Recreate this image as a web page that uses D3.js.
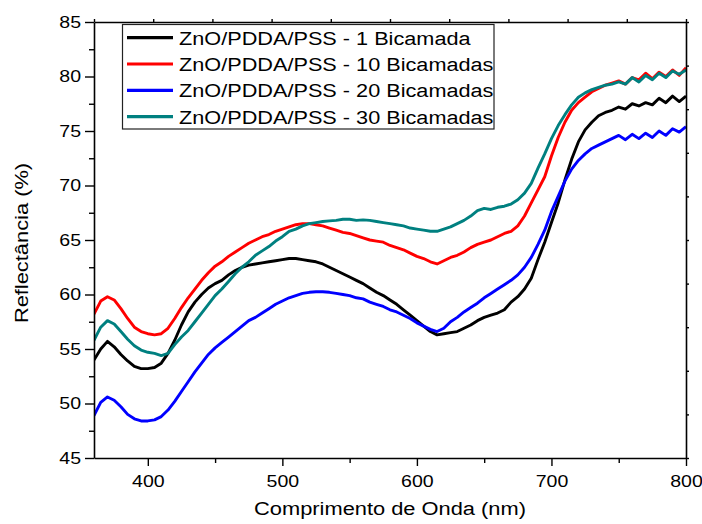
<!DOCTYPE html>
<html>
<head>
<meta charset="utf-8">
<script src="https://cdn.jsdelivr.net/npm/d3@7"></script>
<style>
  html, body { margin: 0; padding: 0; background: #fff; }
  svg { display: block; }
  text { font-family: "Liberation Sans", Arial, sans-serif; fill: #000; }
</style>
</head>
<body>
<svg id="chart" width="702" height="524"></svg>
<script>
// Wavelength grid (nm), 5 nm steps from 360 to 800
const wlStart = 360, wlStep = 5;

// Reflectance (%) for each coating
const black1 = [
  54.0, 55.0, 55.7, 55.2, 54.5, 53.9, 53.4, 53.2, 53.2, 53.3,
  53.7, 54.6, 55.8, 57.2, 58.4, 59.3, 60.0, 60.6, 61.0, 61.3,
  61.8, 62.2, 62.5, 62.7, 62.8, 62.9, 63.0, 63.1, 63.2, 63.3,
  63.3, 63.2, 63.1, 63.0, 62.8, 62.5, 62.2, 61.9, 61.6, 61.3,
  61.0, 60.6, 60.2, 59.9, 59.5, 59.1, 58.6, 58.1, 57.6, 57.1,
  56.6, 56.3, 56.4, 56.5, 56.6, 56.9, 57.2, 57.6, 57.9, 58.1,
  58.3, 58.6, 59.3, 59.8, 60.5, 61.5, 63.2, 64.8, 66.6, 68.4,
  70.5, 72.4, 74.0, 75.1, 75.8, 76.4, 76.7, 76.9, 77.2, 77.0,
  77.5, 77.3, 77.6, 77.4, 78.0, 77.6, 78.2, 77.7, 78.2
];
const red10 = [
  58.2, 59.4, 59.8, 59.5, 58.7, 57.8, 57.0, 56.6, 56.4, 56.3,
  56.4, 56.9, 57.8, 58.8, 59.7, 60.5, 61.3, 62.0, 62.6, 63.0,
  63.5, 63.9, 64.3, 64.7, 65.0, 65.3, 65.5, 65.8, 66.0, 66.2,
  66.4, 66.5, 66.5, 66.4, 66.3, 66.1, 65.9, 65.7, 65.6, 65.4,
  65.2, 65.0, 64.9, 64.8, 64.5, 64.3, 64.1, 63.8, 63.5, 63.3,
  63.0, 62.8, 63.1, 63.4, 63.6, 63.9, 64.3, 64.6, 64.8, 65.0,
  65.3, 65.6, 65.8, 66.3, 67.2, 68.4, 69.6, 70.8, 72.7, 74.4,
  75.8, 76.9, 77.6, 78.1, 78.6, 78.9, 79.2, 79.4, 79.6, 79.3,
  79.9, 79.7, 80.3, 79.8, 80.4, 80.0, 80.6, 80.1, 80.8
];
const blue20 = [
  48.9, 50.1, 50.6, 50.3, 49.7, 49.0, 48.6, 48.4, 48.4, 48.5,
  48.8, 49.4, 50.2, 51.1, 52.0, 52.9, 53.7, 54.5, 55.1, 55.6,
  56.1, 56.6, 57.1, 57.6, 57.9, 58.3, 58.7, 59.1, 59.4, 59.7,
  59.9, 60.1, 60.2, 60.25, 60.25, 60.2, 60.1, 60.0, 59.9, 59.7,
  59.6, 59.3, 59.1, 58.9, 58.6, 58.4, 58.1, 57.8, 57.4, 57.1,
  56.8, 56.6, 56.9, 57.5, 57.9, 58.4, 58.8, 59.2, 59.7, 60.1,
  60.5, 60.9, 61.3, 61.8, 62.5, 63.4, 64.6, 65.9, 67.6, 69.0,
  70.4, 71.5, 72.3, 72.9, 73.4, 73.7, 74.0, 74.3, 74.6, 74.2,
  74.7, 74.3, 74.8, 74.4, 75.0, 74.6, 75.2, 74.9, 75.4
];
const teal30 = [
  55.8, 57.0, 57.6, 57.3, 56.6, 55.9, 55.3, 54.9, 54.7, 54.6,
  54.4, 54.6, 55.4, 56.1, 56.7, 57.5, 58.3, 59.1, 59.9, 60.5,
  61.2, 61.9, 62.5, 63.0, 63.6, 64.0, 64.4, 64.9, 65.3, 65.8,
  66.0, 66.3, 66.5, 66.6, 66.7, 66.75, 66.8, 66.9, 66.9, 66.8,
  66.85, 66.8, 66.7, 66.6, 66.5, 66.4, 66.3, 66.1, 66.0, 65.9,
  65.8, 65.8, 66.0, 66.2, 66.5, 66.8, 67.2, 67.7, 67.9, 67.8,
  68.0, 68.1, 68.3, 68.7, 69.3, 70.2, 71.6, 72.9, 74.3, 75.5,
  76.5, 77.4, 78.1, 78.5, 78.8, 79.0, 79.2, 79.3, 79.5, 79.3,
  79.9, 79.5, 80.1, 79.7, 80.3, 79.9, 80.5, 80.2, 80.6
];

const seriesNames = [
  "ZnO/PDDA/PSS - 1 Bicamada",
  "ZnO/PDDA/PSS - 10 Bicamadas",
  "ZnO/PDDA/PSS - 20 Bicamadas",
  "ZnO/PDDA/PSS - 30 Bicamadas"
];
const seriesColors = ["#000000", "#ff0000", "#0000ff", "#008080"];
const seriesValues = [black1, red10, blue20, teal30];

const xTicks = [400, 500, 600, 700, 800];
const yTicks = [45, 50, 55, 60, 65, 70, 75, 80, 85];
const xTitle = "Comprimento de Onda (nm)";
const yTitle = "Reflectância (%)";

// Text in this figure is drawn slightly wide along its baseline
const textStretch = 1.15;

const svg = d3.select("#chart");
const plot = { left: 94, right: 686, top: 22, bottom: 458 };

const x = d3.scaleLinear().domain([360, 800]).range([plot.left, plot.right]);
const y = d3.scaleLinear().domain([45, 85]).range([plot.bottom, plot.top]);

svg.append("defs").append("clipPath").attr("id", "plot-clip")
  .append("rect")
  .attr("x", plot.left).attr("y", plot.top)
  .attr("width", plot.right - plot.left).attr("height", plot.bottom - plot.top);

// Curves
const line = d3.line()
  .x((d, i) => x(wlStart + i * wlStep))
  .y(d => y(d));

const curves = svg.append("g").attr("clip-path", "url(#plot-clip)");
seriesValues.forEach((vals, k) => {
  curves.append("path")
    .datum(vals)
    .attr("d", line)
    .attr("fill", "none")
    .attr("stroke", seriesColors[k])
    .attr("stroke-width", 2.9)
    .attr("stroke-linejoin", "round");
});

// Axes
function styleAxis(g) {
  g.select(".domain").attr("stroke", "#000").attr("stroke-width", 1.6);
  g.selectAll(".tick line").attr("stroke", "#000").attr("stroke-width", 1.4);
}

// Bottom axis: major ticks with labels
const gx = svg.append("g").attr("transform", `translate(0,${plot.bottom})`)
  .call(d3.axisBottom(x).tickValues(xTicks).tickSize(8).tickPadding(9).tickSizeOuter(0).tickFormat(d3.format("d")))
  .call(styleAxis);
gx.selectAll(".tick text")
  .attr("font-size", 17)
  .attr("text-anchor", "middle")
  .attr("transform", `scale(${textStretch},1)`);

// Bottom minor ticks
svg.append("g").attr("transform", `translate(0,${plot.bottom})`)
  .call(d3.axisBottom(x).tickValues([450, 550, 650, 750]).tickSize(5).tickFormat(""))
  .call(g => g.select(".domain").remove())
  .call(styleAxis);

// Left axis
const gy = svg.append("g").attr("transform", `translate(${plot.left},0)`)
  .call(d3.axisLeft(y).tickValues(yTicks).tickSize(9).tickPadding(5).tickSizeOuter(0).tickFormat(d3.format("d")))
  .call(styleAxis);
gy.selectAll(".tick text")
  .attr("font-size", 17)
  .attr("x", -13 / textStretch)
  .attr("transform", `scale(${textStretch},1)`);

svg.append("g").attr("transform", `translate(${plot.left},0)`)
  .call(d3.axisLeft(y).tickValues([47.5, 52.5, 57.5, 62.5, 67.5, 72.5, 77.5, 82.5]).tickSize(5).tickFormat(""))
  .call(g => g.select(".domain").remove())
  .call(styleAxis);

// Top and right frame with short outward marks at ten equal divisions
svg.append("g").attr("transform", `translate(0,${plot.top})`)
  .call(d3.axisTop(x).tickValues(d3.range(11).map(i => 360 + i * 44)).tickSize(3).tickSizeOuter(0).tickFormat(""))
  .call(styleAxis);
svg.append("g").attr("transform", `translate(${plot.right},0)`)
  .call(d3.axisRight(y).tickValues(d3.range(11).map(i => 45 + i * 4)).tickSize(3).tickSizeOuter(0).tickFormat(""))
  .call(styleAxis);

// Axis titles
svg.append("text")
  .attr("transform", `translate(${(plot.left + plot.right) / 2},515) scale(${textStretch},1)`)
  .attr("text-anchor", "middle")
  .attr("font-size", 19)
  .text(xTitle);

svg.append("text")
  .attr("transform", `translate(28,${(plot.top + plot.bottom) / 2 + 3}) rotate(-90) scale(${textStretch},1)`)
  .attr("text-anchor", "middle")
  .attr("font-size", 19)
  .text(yTitle);

// Legend
const legend = svg.append("g");
legend.append("rect")
  .attr("x", 122.5).attr("y", 24.5)
  .attr("width", 371.5).attr("height", 104.5)
  .attr("fill", "#fff")
  .attr("stroke", "#222").attr("stroke-width", 1.2);

seriesNames.forEach((name, k) => {
  const cy = 37.7 + k * 26.3;
  legend.append("line")
    .attr("x1", 127).attr("x2", 173)
    .attr("y1", cy).attr("y2", cy)
    .attr("stroke", seriesColors[k]).attr("stroke-width", 3.2);
  legend.append("text")
    .attr("transform", `translate(179,${cy + 7}) scale(1.13,1)`)
    .attr("font-size", 19.2)
    .text(name);
});
</script>
</body>
</html>
